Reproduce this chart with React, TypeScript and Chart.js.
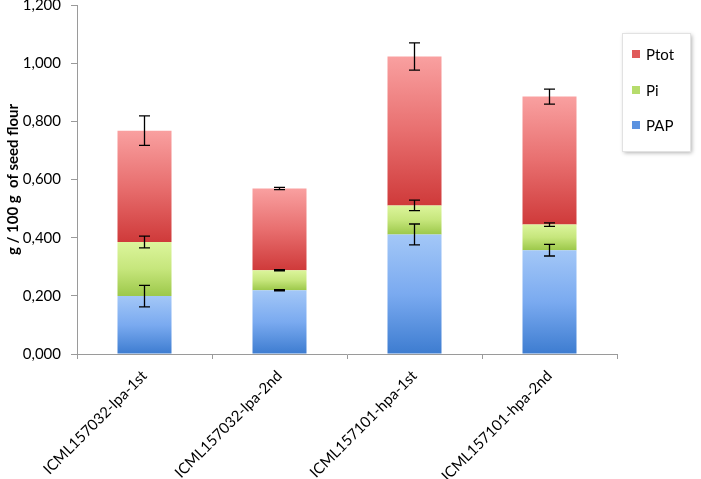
import React, { useEffect, useRef } from "react";
import { Chart, registerables } from "chart.js";

Chart.register(...registerables);

const categories = [
  "ICML157032-lpa-1st",
  "ICML157032-lpa-2nd",
  "ICML157101-hpa-1st",
  "ICML157101-hpa-2nd",
];
const seriesLabels = ["PAP", "Pi", "Ptot"];
const papValues = [0.199, 0.219, 0.411, 0.357];
const piValues = [0.186, 0.069, 0.1, 0.088];
const ptotValues = [0.383, 0.281, 0.512, 0.44];
const papErrors = [0.037, 0.002, 0.036, 0.02];
const piErrors = [0.02, 0.002, 0.018, 0.006];
const ptotErrors = [0.051, 0.004, 0.047, 0.026];
const yTicks = [0, 0.2, 0.4, 0.6, 0.8, 1.0, 1.2];

const gradStops: Record<string, [string, string, string]> = {
  PAP: ["#a3c7f7", "#7aaaf0", "#3d7cd0"],
  Pi: ["#dcf59c", "#c6e67c", "#9cc84a"],
  Ptot: ["#f9a0a0", "#e86f6f", "#cf3a3a"],
};
const legendColors: Record<string, string> = {
  PAP: "#5b92e0",
  Pi: "#b6dc6c",
  Ptot: "#e05a5a",
};

const FONT = "Lato, 'Open Sans', sans-serif";

function segmentGradient(ctx: any, label: string) {
  const chart = ctx.chart;
  const y = chart.scales && chart.scales.y;
  if (!y || ctx.type !== "data") return legendColors[label];
  const di = ctx.datasetIndex;
  const idx = ctx.dataIndex;
  let base = 0;
  for (let i = 0; i < di; i++) base += chart.data.datasets[i].data[idx] as number;
  const top = base + (chart.data.datasets[di].data[idx] as number);
  const yTop = y.getPixelForValue(top);
  const yBot = y.getPixelForValue(base);
  if (!isFinite(yTop) || !isFinite(yBot) || yTop === yBot) return legendColors[label];
  const g = chart.ctx.createLinearGradient(0, yTop, 0, yBot);
  const s = gradStops[label];
  g.addColorStop(0, s[0]);
  g.addColorStop(0.5, s[1]);
  g.addColorStop(1, s[2]);
  return g;
}

const errorBarPlugin = {
  id: "errorBars",
  afterDatasetsDraw(chart: any) {
    const { ctx } = chart;
    const y = chart.scales.y;
    const errs = [papErrors, piErrors, ptotErrors];
    ctx.save();
    ctx.strokeStyle = "#000";
    ctx.lineWidth = 1.3;
    chart.data.datasets.forEach((ds: any, di: number) => {
      const meta = chart.getDatasetMeta(di);
      meta.data.forEach((bar: any, i: number) => {
        let top = 0;
        for (let k = 0; k <= di; k++) top += chart.data.datasets[k].data[i];
        const e = errs[di][i];
        const x = bar.x;
        const y1 = y.getPixelForValue(top + e);
        const y2 = y.getPixelForValue(top - e);
        const cap = 5.5;
        ctx.beginPath();
        ctx.moveTo(x, y1);
        ctx.lineTo(x, y2);
        ctx.moveTo(x - cap, y1);
        ctx.lineTo(x + cap, y1);
        ctx.moveTo(x - cap, y2);
        ctx.lineTo(x + cap, y2);
        ctx.stroke();
      });
    });
    ctx.restore();
  },
};

const legendPlugin = {
  id: "boxLegend",
  afterDraw(chart: any) {
    const { ctx } = chart;
    const left = 622;
    const top = 33;
    const w = 68;
    const h = 118;
    ctx.save();
    ctx.shadowColor = "rgba(0,0,0,0.3)";
    ctx.shadowBlur = 4;
    ctx.shadowOffsetX = 2;
    ctx.shadowOffsetY = 2;
    ctx.fillStyle = "#fff";
    ctx.fillRect(left, top, w, h);
    ctx.shadowColor = "transparent";
    ctx.strokeStyle = "#e2e2e2";
    ctx.lineWidth = 1;
    ctx.strokeRect(left + 0.5, top + 0.5, w, h);
    const order = [2, 1, 0];
    const ys = [54, 90, 125];
    ctx.font = `15px ${FONT}`;
    ctx.textBaseline = "middle";
    ctx.fillStyle = "#000";
    order.forEach((di, k) => {
      const label = chart.data.datasets[di].label;
      ctx.fillStyle = legendColors[label];
      ctx.fillRect(632, ys[k] - 4, 8, 8);
      ctx.fillStyle = "#000";
      ctx.fillText(label, 646, ys[k] + 1);
    });
    ctx.restore();
  },
};

export default function App() {
  const ref = useRef<HTMLCanvasElement>(null);
  useEffect(() => {
    if (!ref.current) return;
    const values = [papValues, piValues, ptotValues];
    const chart = new Chart(ref.current, {
      type: "bar",
      data: {
        labels: categories,
        datasets: seriesLabels.map((label, i) => ({
          label,
          data: values[i],
          backgroundColor: (c: any) => segmentGradient(c, label),
          borderWidth: 0,
          barPercentage: 0.4,
          categoryPercentage: 1,
        })),
      },
      options: {
        animation: false,
        responsive: false,
        maintainAspectRatio: false,
        layout: { padding: { top: 0, right: 84, left: 0, bottom: 0 } },
        plugins: {
          legend: { display: false },
          tooltip: { enabled: false },
        },
        scales: {
          x: {
            stacked: true,
            offset: true,
            grid: {
              display: true,
              drawOnChartArea: false,
              drawTicks: true,
              tickLength: 5,
              color: "#9a9a9a",
              offset: true,
            },
            border: { color: "#9a9a9a", width: 1 },
            ticks: {
              color: "#000",
              font: { family: FONT, size: 15 },
              minRotation: 45,
              maxRotation: 45,
              padding: 8,
            },
            afterFit: (s: any) => {
              s.height = 125;
            },
          },
          y: {
            stacked: true,
            min: 0,
            max: 1.2,
            afterBuildTicks: (s: any) => {
              s.ticks = yTicks.map((v) => ({ value: v }));
            },
            grid: {
              display: true,
              drawOnChartArea: false,
              drawTicks: true,
              tickLength: 6,
              color: "#9a9a9a",
            },
            border: { color: "#9a9a9a", width: 1 },
            ticks: {
              color: "#000",
              font: { family: FONT, size: 15 },
              padding: 10,
              callback: (v: any) => Number(v).toFixed(3).replace(".", ","),
            },
            title: {
              display: true,
              text: "g / 100 g  of seed flour",
              color: "#000",
              font: { family: FONT, size: 15, weight: "bold" },
              padding: { top: 4, bottom: 4 },
            },
            afterFit: (s: any) => {
              s.width = 77;
              s.paddingTop = 5;
            },
          },
        },
      },
      plugins: [errorBarPlugin, legendPlugin],
    });
    return () => chart.destroy();
  }, []);
  return (
    <div style={{ position: "absolute", left: 0, top: 0, width: 701, height: 479, background: "#fff" }}>
      <canvas ref={ref} width={701} height={479} style={{ width: 701, height: 479 }} />
    </div>
  );
}
